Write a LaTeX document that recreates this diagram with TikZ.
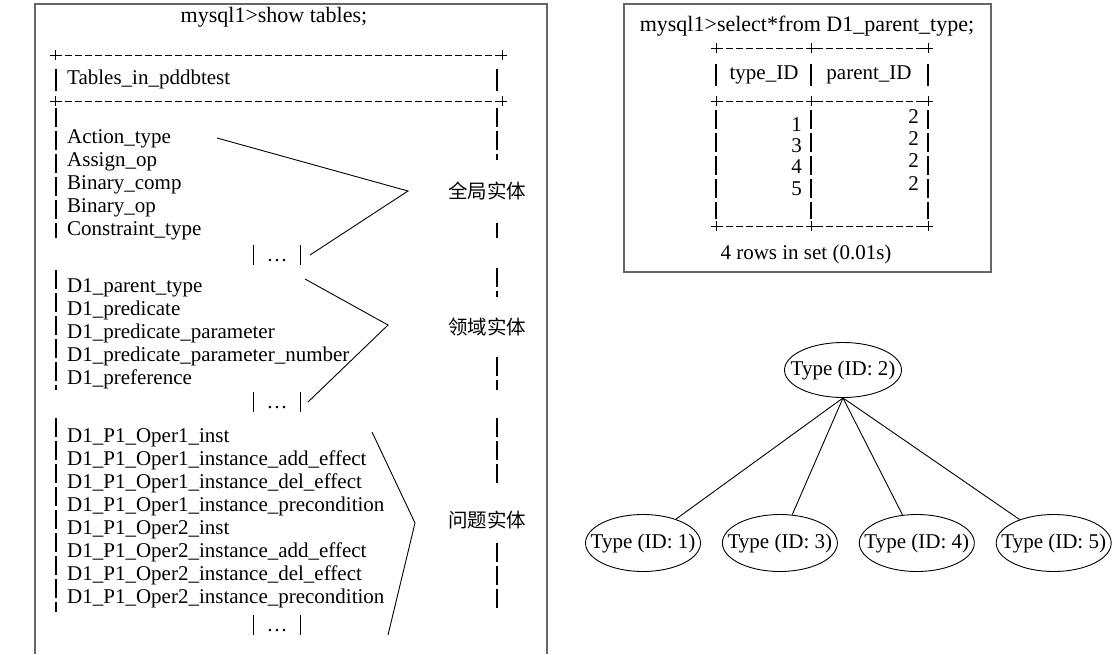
\documentclass[tikz,border=0pt]{standalone}
\usepackage{fontspec}
\usepackage{tikz}
\setmainfont{Liberation Serif}
\newfontfamily\cjk{Noto Sans CJK SC}
\usetikzlibrary{shapes,positioning,calc}
\definecolor{framegray}{HTML}{666666}

\begin{document}
\begin{tikzpicture}[x=1pt,y=-1pt,font=\fontsize{21}{23}\selectfont]
        % Define styles
        \tikzstyle{frame} = [draw=framegray, line width=1.5pt]
        \tikzstyle{rule} = [dash pattern=on 7pt off 3pt, line width=1pt]
        \tikzstyle{pipe} = [dash pattern=on 19pt off 4pt, line width=1.3pt]
        \tikzstyle{bar} = [line width=1.3pt]
        \tikzstyle{row} = [anchor=west, inner sep=0pt, text height=14pt, text depth=5pt]
        \tikzstyle{num} = [anchor=east, inner sep=0pt, text height=14pt, text depth=5pt]
        \tikzstyle{more} = [inner sep=0pt, minimum width=47pt, minimum height=20pt, text height=16pt, text depth=3pt]
        \tikzstyle{tag} = [inner sep=0pt, font=\cjk\fontsize{19.5}{23}\selectfont]
        \tikzstyle{brace} = [line width=0.9pt]
        \tikzstyle{type} = [ellipse, draw, line width=0.9pt, minimum width=115pt, minimum height=57pt, inner sep=0pt]

        \useasboundingbox (0,0) rectangle (1112,654);

        % Left frame: table list
        \draw[frame] (35,654) -- (35,4) -- (547,4) -- (547,654);
        \node[font=\fontsize{22}{24}\selectfont] (show) at (274,17) {mysql1>show tables;};
        \foreach \y in {55,101} {
            \draw[rule] (55,\y) -- (502,\y);
            \foreach \x in {55,502}
                \draw[line width=1pt] (\x,\y-5) -- (\x,\y+5) (\x-5,\y) -- (\x+5,\y);
        }
        \node[row] (head) at (67,80) {Tables\_in\_pddbtest};
        \draw[bar] (56,69) -- (56,91) (497,69) -- (497,91);
        \foreach \a/\b in {108/238,270/390,418/612}
            \draw[pipe] (56,\a) -- (56,\b);
        \foreach \a/\b in {108/160,223/238,268/297,357/390,418/483,543/610}
            \draw[pipe] (497,\a) -- (497,\b);

        % Global entities
        \foreach \txt [count=\i] in {Action\_type, Assign\_op, Binary\_comp, Binary\_op, Constraint\_type}
            \node[row] (glob\i) at (67,{139+23*(\i-1)}) {\txt};
        \node[more] (more1) at (277,255) {\ldots};

        % Domain entities
        \foreach \txt [count=\i] in {D1\_parent\_type, D1\_predicate, D1\_predicate\_parameter, D1\_predicate\_parameter\_number, D1\_preference}
            \node[row] (dom\i) at (67,{288+23*(\i-1)}) {\txt};
        \node[more] (more2) at (277,402) {\ldots};

        % Problem entities
        \foreach \txt [count=\i] in {D1\_P1\_Oper1\_inst, D1\_P1\_Oper1\_instance\_add\_effect, D1\_P1\_Oper1\_instance\_del\_effect, D1\_P1\_Oper1\_instance\_precondition, D1\_P1\_Oper2\_inst, D1\_P1\_Oper2\_instance\_add\_effect, D1\_P1\_Oper2\_instance\_del\_effect, D1\_P1\_Oper2\_instance\_precondition}
            \node[row] (prob\i) at (67,{438+23*(\i-1)}) {\txt};
        \node[more] (more3) at (277,625) {\ldots};

        \foreach \m in {more1,more2,more3}
            \draw[bar] (\m.north west) -- (\m.south west) (\m.north east) -- (\m.south east);

        % Labels and brackets
        \node[tag] (global) at (487,191) {全局实体};
        \node[tag] (domain) at (487,327) {领域实体};
        \node[tag] (problem) at (487,520) {问题实体};
        \coordinate (g1) at (217,138);
        \coordinate (g2) at (408,191);
        \coordinate (g3) at (310,255);
        \coordinate (d1) at (305,279);
        \coordinate (d2) at (388,325);
        \coordinate (d3) at (308,402);
        \coordinate (p1) at (372,432);
        \coordinate (p2) at (415,523);
        \coordinate (p3) at (388,635);
        \draw[brace] (g1) -- (g2) -- (g3);
        \draw[brace] (d1) -- (d2) -- (d3);
        \draw[brace] (p1) -- (p2) -- (p3);

        % Right frame: query result
        \draw[frame] (624,4) rectangle (991,272);
        \node[font=\fontsize{22}{24}\selectfont] (select) at (807,26) {mysql1>select*from D1\_parent\_type;};
        \foreach \y in {48,101,226} {
            \draw[rule] (716,\y) -- (928,\y);
            \foreach \x in {716,811,928}
                \draw[line width=1pt] (\x,\y-5) -- (\x,\y+5) (\x-5,\y) -- (\x+5,\y);
        }
        \foreach \x in {716,811,928} {
            \draw[bar] (\x,64) -- (\x,86);
            \draw[pipe] (\x,110) -- (\x,219);
        }
        \node (tid) at (764,75) {type\_ID};
        \node (pid) at (869,75) {parent\_ID};
        \foreach \n/\y in {1/127,3/148,4/169,5/191}
            \node[num] (typ\n) at (802,\y) {\n};
        \foreach \y [count=\i] in {119,141,163,186}
            \node[num] (par\i) at (919,\y) {2};
        \node (rows) at (806,254) {4 rows in set (0.01s)};

        % Type tree
        \node[type] (t1) at (643,543) {\makebox[0pt]{Type (ID: 1)}};
        \node[type, right=21pt of t1] (t3) {\makebox[0pt]{Type (ID: 3)}};
        \node[type, right=21pt of t3] (t4) {\makebox[0pt]{Type (ID: 4)}};
        \node[type, right=21pt of t4] (t5) {\makebox[0pt]{Type (ID: 5)}};
        \node[type, minimum width=117pt, minimum height=55pt] (root) at (843,370) {\makebox[0pt]{Type (ID: 2)}};
        \foreach \c in {t1,t3,t4,t5}
            \draw[line width=0.9pt] (root.south) -- (\c);

    \end{tikzpicture}
\end{document}
